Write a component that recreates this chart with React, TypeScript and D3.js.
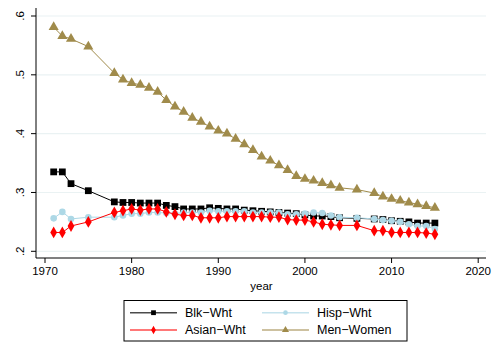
import React from "react";
import * as d3 from "d3";

// Survey years
const years = [
  1971, 1972, 1973, 1975, 1978, 1979, 1980, 1981, 1982, 1983, 1984, 1985, 1986,
  1987, 1988, 1989, 1990, 1991, 1992, 1993, 1994, 1995, 1996, 1997, 1998, 1999,
  2000, 2001, 2002, 2003, 2004, 2006, 2008, 2009, 2010, 2011, 2012, 2013, 2014,
  2015,
];

const blkWht = [
  0.335, 0.335, 0.315, 0.303, 0.284, 0.283, 0.283, 0.282, 0.282, 0.282, 0.278,
  0.276, 0.272, 0.272, 0.272, 0.274, 0.273, 0.272, 0.272, 0.270, 0.269, 0.268,
  0.267, 0.266, 0.265, 0.264, 0.262, 0.260, 0.260, 0.259, 0.257, 0.256, 0.255,
  0.254, 0.252, 0.251, 0.250, 0.248, 0.248, 0.248,
];

const hispWht = [
  0.256, 0.267, 0.255, 0.258, 0.258, 0.261, 0.264, 0.264, 0.266, 0.266, 0.265,
  0.264, 0.266, 0.266, 0.266, 0.269, 0.268, 0.268, 0.268, 0.268, 0.266, 0.266,
  0.266, 0.266, 0.263, 0.263, 0.264, 0.266, 0.265, 0.261, 0.258, 0.257, 0.255,
  0.253, 0.252, 0.250, 0.246, 0.243, 0.243, 0.238,
];

const asianWht = [
  0.232, 0.232, 0.243, 0.250, 0.266, 0.269, 0.272, 0.270, 0.272, 0.272, 0.267,
  0.263, 0.261, 0.261, 0.257, 0.257, 0.257, 0.259, 0.259, 0.259, 0.259, 0.259,
  0.258, 0.258, 0.254, 0.253, 0.253, 0.250, 0.246, 0.245, 0.244, 0.244, 0.235,
  0.235, 0.232, 0.232, 0.232, 0.232, 0.231, 0.229,
];

const menWomen = [
  0.581, 0.566, 0.561, 0.548, 0.503, 0.492, 0.486, 0.483, 0.478, 0.471, 0.457,
  0.446, 0.437, 0.427, 0.420, 0.412, 0.405, 0.400, 0.391, 0.382, 0.372, 0.361,
  0.354, 0.346, 0.338, 0.328, 0.323, 0.320, 0.316, 0.312, 0.308, 0.305, 0.299,
  0.293, 0.289, 0.286, 0.283, 0.280, 0.277, 0.274,
];

const xTicks = [1970, 1980, 1990, 2000, 2010, 2020];
const yTicks = [0.2, 0.3, 0.4, 0.5, 0.6];

type Shape = "square" | "circle" | "diamond" | "triangle";

const series: { name: string; values: number[]; color: string; shape: Shape }[] = [
  { name: "Blk\u2212Wht", values: blkWht, color: "#000000", shape: "square" },
  { name: "Hisp\u2212Wht", values: hispWht, color: "#add8e6", shape: "circle" },
  { name: "Asian\u2212Wht", values: asianWht, color: "#ff0000", shape: "diamond" },
  { name: "Men\u2212Women", values: menWomen, color: "#a08b4b", shape: "triangle" },
];

const W = 497;
const H = 343;
const FONT = "'Liberation Sans', Arial, Helvetica, sans-serif";

const x = d3.scaleLinear().domain([1968.96, 2020.9]).range([36, 486]);
const y = d3.scaleLinear().domain([0.2, 0.6]).range([251.3, 16]);
const plotTop = 8;
const plotBottom = 258;

const symbolFor: Record<Shape, { type: d3.SymbolType; size: number }> = {
  square: { type: d3.symbolSquare, size: 46 },
  circle: { type: d3.symbolCircle, size: 34 },
  diamond: { type: d3.symbolDiamond, size: 40 },
  triangle: { type: d3.symbolTriangle, size: 44 },
};

function Marker({
  shape,
  color,
  cx,
  cy,
  scale = 1,
}: {
  shape: Shape;
  color: string;
  cx: number;
  cy: number;
  scale?: number;
}) {
  const s = symbolFor[shape];
  const path = d3.symbol().type(s.type).size(s.size * scale)() as string;
  return <path d={path} transform={`translate(${cx},${cy})`} fill={color} />;
}

export default function App() {
  const line = d3
    .line<number>()
    .x((_, i) => x(years[i]))
    .y((v) => y(v));

  const legendItems = [
    { s: series[0], lx: 130, ty: 312.7 },
    { s: series[1], lx: 262, ty: 312.7 },
    { s: series[2], lx: 130, ty: 330 },
    { s: series[3], lx: 262, ty: 330 },
  ];

  return (
    <svg
      width={W}
      height={H}
      style={{ position: "absolute", left: 0, top: 0, background: "#ffffff" }}
      fontFamily={FONT}
    >
      {/* horizontal grid */}
      {yTicks.map((t) => (
        <line key={`g${t}`} x1={36} x2={486} y1={y(t)} y2={y(t)} stroke="#eaf2f3" strokeWidth={1.2} />
      ))}

      {/* series */}
      {series.map((s) => (
        <g key={s.name}>
          <path d={line(s.values) as string} fill="none" stroke={s.color} strokeWidth={1} />
          {s.values.map((v, i) => (
            <Marker key={i} shape={s.shape} color={s.color} cx={x(years[i])} cy={y(v)} />
          ))}
        </g>
      ))}

      {/* y axis */}
      <line x1={36} x2={36} y1={plotTop} y2={plotBottom} stroke="#000" strokeWidth={1} />
      {yTicks.map((t) => (
        <g key={`y${t}`}>
          <line x1={31} x2={36} y1={y(t)} y2={y(t)} stroke="#000" strokeWidth={1} />
          <text
            transform={`translate(24,${y(t)}) rotate(-90)`}
            textAnchor="middle"
            fontSize={11.5}
            fill="#000"
          >
            {d3.format(".1f")(t).replace(/^0/, "")}
          </text>
        </g>
      ))}

      {/* x axis */}
      <line x1={36} x2={486} y1={plotBottom} y2={plotBottom} stroke="#000" strokeWidth={1} />
      {xTicks.map((t) => (
        <g key={`x${t}`}>
          <line x1={x(t)} x2={x(t)} y1={plotBottom} y2={plotBottom + 5} stroke="#000" strokeWidth={1} />
          <text x={x(t)} y={274.8} textAnchor="middle" fontSize={11.5} fill="#000">
            {t}
          </text>
        </g>
      ))}
      <text x={261.5} y={290} textAnchor="middle" fontSize={11.5} fill="#000">
        year
      </text>

      {/* legend */}
      <rect x={124} y={300.5} width={283} height={40.5} fill="#fff" stroke="#000" strokeWidth={1} />
      {legendItems.map(({ s, lx, ty }) => (
        <g key={`l${s.name}`}>
          <line x1={lx} x2={lx + 47} y1={ty} y2={ty} stroke={s.color} strokeWidth={1.5} opacity={0.7} />
          <Marker shape={s.shape} color={s.color} cx={lx + 23.5} cy={ty} scale={0.5} />
          <text x={lx + 55} y={ty + 4.3} fontSize={12.5} fill="#000">
            {s.name}
          </text>
        </g>
      ))}
    </svg>
  );
}
